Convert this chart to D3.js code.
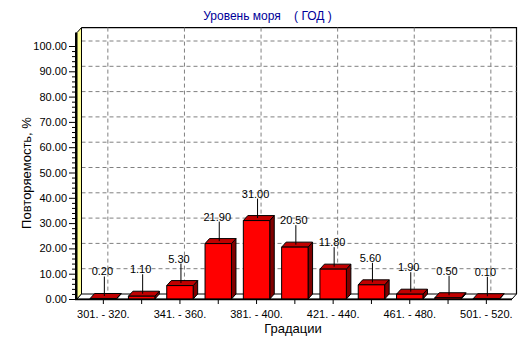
<!DOCTYPE html>
<html><head><meta charset="utf-8">
<script src="https://cdn.jsdelivr.net/npm/d3@7"></script>
<style>
html,body{margin:0;padding:0;background:#fff;}
text{font-family:"Liberation Sans",Arial,sans-serif;}
</style></head>
<body><svg id="c" width="532" height="343"></svg>
<script>
const categories = ["301. - 320.", "321. - 340.", "341. - 360.", "361. - 380.", "381. - 400.", "401. - 420.", "421. - 440.", "441. - 460.", "461. - 480.", "481. - 500.", "501. - 520."];
const values = [0.20, 1.10, 5.30, 21.90, 31.00, 20.50, 11.80, 5.60, 1.90, 0.50, 0.10];
const shownLabels = ["301. - 320.", "341. - 360.", "381. - 400.", "421. - 440.", "461. - 480.", "501. - 520."];
const yTicks = [0, 10, 20, 30, 40, 50, 60, 70, 80, 90, 100];
const yMinorTicks = d3.range(0, 101, 2);
const title = "Уровень моря    ( ГОД )";
const xTitle = "Градации";
const yTitle = "Повторяемость, %";

const svg = d3.select("#c");
const DX = 4.5, DY = -5;
const x0 = 77, x1 = 512;
const y = d3.scaleLinear().domain([0, 100]).range([299, 46]);
const yTopVal = 105.3;
const x = d3.scaleBand().domain(categories).range([84.2, 505.5]).padding(0);
const bw = x.bandwidth() * 0.69;
const cx = c => x(c) + x.bandwidth() / 2;

const yb = v => y(v) + DY;   // back plane
const xb0 = x0 + DX, xb1 = x1 + DX;

// back wall
svg.append("rect").attr("x", xb0).attr("y", yb(yTopVal)).attr("width", xb1 - xb0).attr("height", yb(0) - yb(yTopVal)).attr("fill", "#fff");
svg.append("path").attr("d", `M${xb0},${yb(yTopVal)}H${xb1}V${yb(0)}`).attr("fill", "none").attr("stroke", "#000").attr("stroke-width", 1.2);

// grid
const grid = svg.append("g").attr("stroke", "#808080").attr("stroke-dasharray", "4,3").attr("stroke-width", 1);
yTicks.filter(v => v > 0).forEach(v => {
  grid.append("line").attr("x1", xb0).attr("x2", xb1).attr("y1", yb(v)).attr("y2", yb(v));
});
shownLabels.forEach(c => {
  grid.append("line").attr("x1", cx(c) + DX).attr("x2", cx(c) + DX).attr("y1", yb(yTopVal)).attr("y2", yb(0));
});

// left wall
svg.append("path")
  .attr("d", `M${x0},${y(yTopVal)}L${xb0},${yb(yTopVal)}L${xb0},${yb(0)}L${x0},${y(0)}Z`)
  .attr("fill", "#ffff99").attr("stroke", "#000").attr("stroke-width", 1);

// floor
svg.append("path")
  .attr("d", `M${x0},${y(0)}L${xb0},${yb(0)}L${xb1},${yb(0)}L${x1},${y(0)}Z`)
  .attr("fill", "#fff").attr("stroke", "#000").attr("stroke-width", 1);

// bars
const bars = svg.append("g");
categories.forEach((c, i) => {
  const v = values[i];
  const l = cx(c) - bw / 2, r = cx(c) + bw / 2, t = y(v), b = y(0);
  const g = bars.append("g").attr("stroke", "#000").attr("stroke-width", 1).attr("stroke-linejoin", "round");
  g.append("path").attr("d", `M${r},${t}L${r + DX},${t + DY}L${r + DX},${b + DY}L${r},${b}Z`).attr("fill", "#800000");
  g.append("path").attr("d", `M${l},${t}L${l + DX},${t + DY}L${r + DX},${t + DY}L${r},${t}Z`).attr("fill", "#c00000");
  g.append("rect").attr("x", l).attr("y", t).attr("width", r - l).attr("height", Math.max(0, b - t)).attr("fill", "#ff0000");
});

// value labels
const lab = svg.append("g");
categories.forEach((c, i) => {
  const v = values[i];
  const ly = y(v) - 27;
  lab.append("line").attr("x1", cx(c) + 1).attr("x2", cx(c) + 1).attr("y1", ly + 5).attr("y2", y(v) - 2.5).attr("stroke", "#000").attr("stroke-width", 1);
  lab.append("text").attr("x", cx(c) - 1).attr("y", ly + 4).attr("text-anchor", "middle").attr("font-size", 11).attr("fill", "#000").text(d3.format(".2f")(v));
});

// front axes lines
svg.append("line").attr("x1", x0 - 1).attr("x2", x0 - 1).attr("y1", y(yTopVal)).attr("y2", y(0) + 1).attr("stroke", "#000").attr("stroke-width", 2);
svg.append("line").attr("x1", x0 - 2).attr("x2", x1).attr("y1", y(0) + 0.5).attr("y2", y(0) + 0.5).attr("stroke", "#000").attr("stroke-width", 1.5);

// y axis
const yAxis = d3.axisLeft(y).tickValues(yTicks).tickFormat(d3.format(".2f")).tickSize(6).tickPadding(2);
const ya = svg.append("g").attr("transform", `translate(${x0 - 2},0)`).call(yAxis);
ya.select(".domain").remove();
ya.selectAll("text").attr("font-size", 11).attr("font-family", "Liberation Sans, Arial, sans-serif").attr("fill", "#000");
ya.selectAll("line").attr("stroke", "#000");
const yMin = d3.axisLeft(y).tickValues(yMinorTicks.filter(v => v % 10 !== 0)).tickFormat("").tickSize(3);
const ym = svg.append("g").attr("transform", `translate(${x0 - 2},0)`).call(yMin);
ym.select(".domain").remove();
ym.selectAll("line").attr("stroke", "#000");

// x axis
const xAxis = d3.axisBottom(x).tickFormat(c => shownLabels.includes(c) ? c : "").tickSize(4).tickPadding(6);
const xa = svg.append("g").attr("transform", `translate(0,${y(0) + 1})`).call(xAxis);
xa.select(".domain").remove();
xa.selectAll("text").attr("font-size", 11).attr("font-family", "Liberation Sans, Arial, sans-serif").attr("fill", "#000");
xa.selectAll("line").attr("stroke", "#000");

// titles
svg.append("text").attr("x", 267.5).attr("y", 19.5).attr("text-anchor", "middle").attr("font-size", 12).attr("fill", "#000099").style("white-space", "pre").text(title);
svg.append("text").attr("x", 293).attr("y", 333).attr("text-anchor", "middle").attr("font-size", 13).attr("fill", "#000").text(xTitle);
svg.append("text").attr("transform", "translate(30.5,173) rotate(-90)").attr("text-anchor", "middle").attr("font-size", 13).attr("fill", "#000").text(yTitle);
</script></body></html>
